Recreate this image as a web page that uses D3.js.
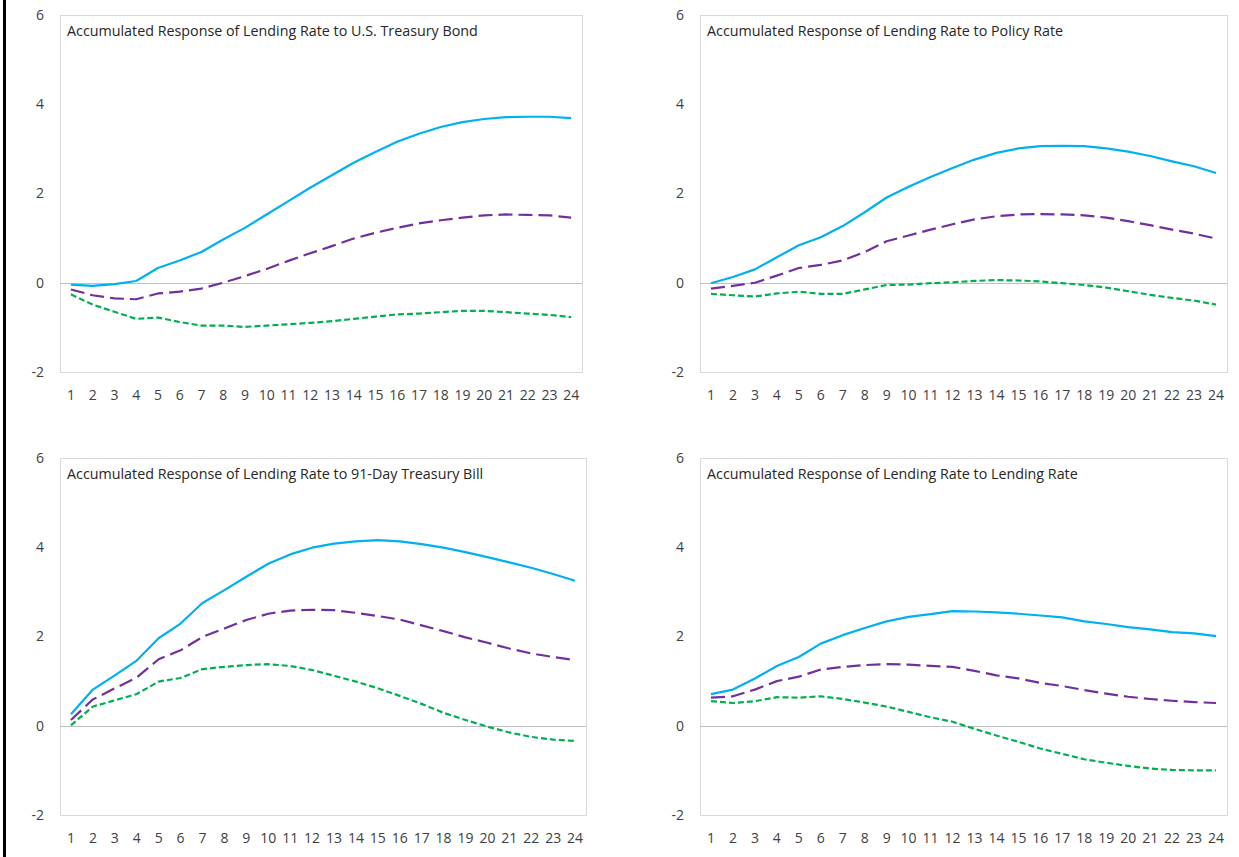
<!DOCTYPE html>
<html>
<head>
<meta charset="utf-8">
<script src="https://cdn.jsdelivr.net/npm/d3@7"></script>
<style>
  html, body { margin: 0; padding: 0; background: #fff; }
  svg { display: block; }
  text { font-family: "Open Sans", "Noto Sans", sans-serif; }
</style>
</head>
<body>
<svg id="chart" width="1239" height="857"></svg>
<script>
// Horizon (months) shared by all four panels
const periods = d3.range(1, 25).map(String);
const yTicks = [-2, 0, 2, 4, 6];

const titles = [
  "Accumulated Response of Lending Rate to U.S. Treasury Bond",
  "Accumulated Response of Lending Rate to Policy Rate",
  "Accumulated Response of Lending Rate to 91-Day Treasury Bill",
  "Accumulated Response of Lending Rate to Lending Rate"
];

// Upper band, point response, lower band for each shock
const bondUpper  = [-0.04,-0.07,-0.03,0.04,0.33,0.50,0.69,0.97,1.23,1.53,1.83,2.13,2.41,2.69,2.93,3.16,3.34,3.49,3.60,3.67,3.71,3.72,3.72,3.69];
const bondMid    = [-0.15,-0.28,-0.35,-0.37,-0.24,-0.20,-0.13,0.00,0.15,0.31,0.49,0.66,0.82,0.99,1.12,1.23,1.33,1.40,1.46,1.51,1.53,1.52,1.51,1.46];
const bondLower  = [-0.26,-0.49,-0.65,-0.81,-0.78,-0.88,-0.96,-0.96,-0.99,-0.96,-0.93,-0.90,-0.86,-0.81,-0.76,-0.71,-0.69,-0.66,-0.63,-0.63,-0.66,-0.69,-0.72,-0.77];

const policyUpper = [-0.01,0.13,0.30,0.57,0.84,1.02,1.27,1.58,1.91,2.15,2.37,2.57,2.76,2.91,3.01,3.06,3.07,3.06,3.01,2.94,2.84,2.72,2.61,2.46];
const policyMid   = [-0.13,-0.07,0.00,0.16,0.33,0.40,0.50,0.69,0.93,1.06,1.19,1.31,1.42,1.49,1.53,1.54,1.53,1.51,1.46,1.38,1.29,1.19,1.10,0.99];
const policyLower = [-0.25,-0.28,-0.31,-0.24,-0.20,-0.25,-0.25,-0.15,-0.05,-0.04,-0.01,0.01,0.04,0.06,0.05,0.03,-0.01,-0.05,-0.11,-0.19,-0.27,-0.34,-0.40,-0.49];

const billUpper = [0.26,0.81,1.13,1.46,1.96,2.29,2.75,3.04,3.34,3.63,3.84,3.99,4.08,4.13,4.16,4.13,4.07,3.99,3.89,3.78,3.66,3.54,3.40,3.25];
const billMid   = [0.13,0.59,0.84,1.08,1.49,1.69,1.99,2.18,2.37,2.51,2.58,2.60,2.59,2.53,2.46,2.38,2.25,2.12,1.98,1.86,1.73,1.62,1.54,1.47];
const billLower = [0.01,0.43,0.57,0.71,0.99,1.07,1.27,1.32,1.36,1.38,1.34,1.25,1.12,0.99,0.84,0.67,0.49,0.29,0.13,-0.02,-0.15,-0.25,-0.31,-0.34];

const lendUpper = [0.71,0.81,1.06,1.34,1.54,1.84,2.03,2.19,2.34,2.44,2.50,2.57,2.56,2.54,2.51,2.47,2.43,2.34,2.28,2.21,2.16,2.10,2.07,2.01];
const lendMid   = [0.63,0.66,0.81,1.00,1.10,1.26,1.32,1.36,1.38,1.37,1.34,1.32,1.23,1.13,1.06,0.96,0.89,0.80,0.72,0.65,0.60,0.56,0.53,0.51];
const lendLower = [0.55,0.51,0.55,0.64,0.63,0.66,0.60,0.52,0.43,0.31,0.19,0.09,-0.07,-0.22,-0.36,-0.51,-0.63,-0.75,-0.83,-0.90,-0.96,-0.99,-1.00,-1.00];

const panelSeries = [
  [bondUpper, bondMid, bondLower],
  [policyUpper, policyMid, policyLower],
  [billUpper, billMid, billLower],
  [lendUpper, lendMid, lendLower]
];

// Line styles: upper band solid, response long dash, lower band short dash
const lineStyles = [
  { color: "#00B0F0", dash: null },
  { color: "#7030A0", dash: "14,6" },
  { color: "#00B050", dash: "6,3" }
];

// Plot frames for each panel (left, top, right, bottom)
const frames = [
  { x0: 60,  y0: 15,  x1: 582,  y1: 372 },
  { x0: 700, y0: 15,  x1: 1227, y1: 372 },
  { x0: 60,  y0: 458, x1: 586,  y1: 815 },
  { x0: 700, y0: 458, x1: 1227, y1: 815 }
];

const svg = d3.select("#chart");

// Dark rule along the left edge of the page
svg.append("rect").attr("x", 3).attr("y", 0).attr("width", 3).attr("height", 857).attr("fill", "#000");

frames.forEach((f, i) => {
  const g = svg.append("g");

  const x = d3.scaleBand().domain(periods).range([f.x0, f.x1]).padding(0);
  const y = d3.scaleLinear().domain([-2, 6]).range([f.y1, f.y0]);

  // Plot frame
  g.append("rect")
    .attr("x", f.x0 + 0.5).attr("y", f.y0 + 0.5)
    .attr("width", f.x1 - f.x0).attr("height", f.y1 - f.y0)
    .attr("fill", "none").attr("stroke", "#d9d9d9").attr("stroke-width", 1);

  // Zero line
  g.append("line")
    .attr("x1", f.x0).attr("x2", f.x1)
    .attr("y1", Math.round(y(0)) + 0.5).attr("y2", Math.round(y(0)) + 0.5)
    .attr("stroke", "#bfbfbf").attr("stroke-width", 1);

  // Y axis labels (plain hyphen for negatives)
  const yAxis = g.append("g")
    .attr("transform", `translate(${f.x0 - 16},0)`)
    .call(d3.axisLeft(y).tickValues(yTicks).tickSize(0).tickPadding(0).tickFormat(d => String(d)));
  yAxis.select(".domain").remove();
  yAxis.selectAll("text").attr("font-size", 14).attr("fill", "#404040")
    .attr("font-family", "'Open Sans', 'Noto Sans', sans-serif");

  // X axis labels
  const xAxis = g.append("g")
    .attr("transform", `translate(0,${f.y1 + 18})`)
    .call(d3.axisBottom(x).tickSize(0).tickPadding(0));
  xAxis.select(".domain").remove();
  xAxis.selectAll("text").attr("font-size", 14).attr("fill", "#404040")
    .attr("font-family", "'Open Sans', 'Noto Sans', sans-serif");

  // Series lines
  const line = d3.line()
    .x((d, k) => x(periods[k]) + x.bandwidth() / 2)
    .y(d => y(d));

  panelSeries[i].forEach((vals, s) => {
    g.append("path")
      .datum(vals)
      .attr("d", line)
      .attr("fill", "none")
      .attr("stroke", lineStyles[s].color)
      .attr("stroke-width", 2.2)
      .attr("stroke-dasharray", lineStyles[s].dash)
      .attr("stroke-linejoin", "round");
  });

  // Panel title
  g.append("text")
    .attr("x", f.x0 + 7).attr("y", f.y0 + 21)
    .attr("font-size", 14.3).attr("fill", "#262626")
    .text(titles[i]);
});
</script>
</body>
</html>
